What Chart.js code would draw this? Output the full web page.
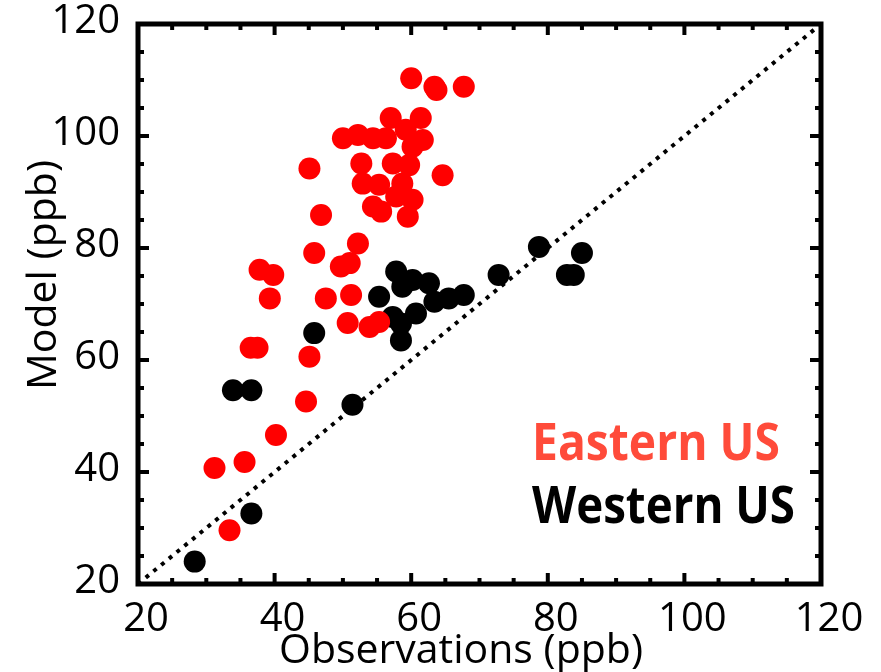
<!DOCTYPE html>
<html>
<head>
<meta charset="utf-8">
<script src="https://cdn.jsdelivr.net/npm/chart.js@4"></script>
<style>
  body { margin: 0; background: #fff; }
  #chart { display: block; }
</style>
</head>
<body>
<canvas id="chart" width="881" height="672"></canvas>
<script>
// data

const eastObs = [60.0, 63.4, 63.7, 67.7, 57.0, 61.4, 59.2, 50.0, 52.2, 54.4, 56.3, 61.7, 60.2,
  45.1, 52.7, 57.3, 59.7, 64.6, 52.9, 55.3, 58.7, 57.8, 60.2, 54.4, 55.6, 59.5, 46.8,
  52.2, 45.8, 49.7, 51.0, 37.8, 39.8, 39.3, 47.5, 51.2, 50.7, 53.9, 55.3,
  36.5, 37.5, 45.1, 44.6, 40.2, 31.2, 35.6, 33.4];
const eastModel = [110.3, 108.8, 108.2, 108.8, 103.2, 103.2, 101.1, 99.6, 100.2, 99.6, 99.6, 99.3, 98.1,
  94.2, 95.1, 95.1, 94.8, 93.0, 91.5, 91.3, 91.5, 89.2, 88.6, 87.4, 86.5, 85.6, 85.9,
  80.8, 79.1, 76.7, 77.3, 76.1, 75.2, 71.0, 71.0, 71.6, 66.6, 65.9, 66.8,
  62.2, 62.2, 60.6, 52.6, 46.6, 40.7, 41.8, 29.6];

const westObs = [28.3, 36.6, 33.9, 36.6, 51.4, 45.8, 58.5, 58.5, 57.3, 60.7, 55.3,
  57.8, 58.7, 60.2, 62.6, 63.4, 65.5, 67.7, 72.8, 78.7, 82.8, 83.8, 85.0];
const westModel = [24.0, 32.6, 54.6, 54.6, 52.0, 64.8, 63.5, 66.5, 67.7, 68.3, 71.3,
  75.8, 73.1, 74.3, 73.7, 70.4, 71.0, 71.6, 75.2, 80.2, 75.2, 75.2, 79.1];

const oneToOne = [20, 120];
const axisTicks = [20, 40, 60, 80, 100, 120];
const labels = ['Eastern US', 'Western US'];
const xTitle = 'Observations (ppb)';
const yTitle = 'Model (ppb)';

// helpers

function toPoints(xs, ys) {
  return xs.map((x, i) => ({ x: x, y: ys[i] }));
}

const xTickFont = { family: 'Open Sans', size: 40, lineHeight: 1 };
const yTickFont = { family: 'Open Sans', size: 40, lineHeight: 0.5 };

// frame with inward ticks on all four sides, axis titles and the two text labels
const frame_plugin = {
  id: 'frame',
  afterDraw(chart) {
    const ctx = chart.ctx;
    const a = chart.chartArea;
    const xs = chart.scales.x;
    const ys = chart.scales.y;
    ctx.save();
    ctx.strokeStyle = '#000';
    ctx.lineWidth = 5;
    ctx.strokeRect(a.left, a.top, a.right - a.left, a.bottom - a.top);

    ctx.lineWidth = 4;
    for (let v = 20; v <= 120; v += 5) {
      const len = axisTicks.includes(v) ? 11 : 6;
      const px = xs.getPixelForValue(v);
      const py = ys.getPixelForValue(v);
      ctx.beginPath();
      ctx.moveTo(px, a.bottom); ctx.lineTo(px, a.bottom - len);
      ctx.moveTo(px, a.top); ctx.lineTo(px, a.top + len);
      ctx.moveTo(a.left, py); ctx.lineTo(a.left + len, py);
      ctx.moveTo(a.right, py); ctx.lineTo(a.right - len, py);
      ctx.stroke();
    }

    // axis titles
    ctx.fillStyle = '#000';
    ctx.font = '41px "Open Sans"';
    ctx.textAlign = 'center';
    ctx.textBaseline = 'alphabetic';
    ctx.fillText(xTitle, 461, 663, 365);
    ctx.save();
    ctx.translate(56, 275);
    ctx.rotate(-Math.PI / 2);
    ctx.fillText(yTitle, 0, 0, 232);
    ctx.restore();

    // series labels
    ctx.font = 'bold 52px "Open Sans"';
    ctx.textAlign = 'left';
    ctx.fillStyle = '#ff4b3a';
    ctx.fillText(labels[0], 532, 460, 248);
    ctx.fillStyle = '#000';
    ctx.fillText(labels[1], 532, 523, 263);
    ctx.restore();
  }
};

const ctx = document.getElementById('chart').getContext('2d');
const chart = new Chart(ctx, {
  type: 'scatter',
  data: {
    datasets: [
      {
        label: labels[0],
        data: toPoints(eastObs, eastModel),
        backgroundColor: '#ff0000',
        borderWidth: 0,
        pointRadius: 11,
        order: 0
      },
      {
        label: labels[1],
        data: toPoints(westObs, westModel),
        backgroundColor: '#000',
        borderWidth: 0,
        pointRadius: 11,
        order: 1
      },
      {
        type: 'line',
        label: '1:1',
        data: toPoints(oneToOne, oneToOne),
        borderColor: '#000',
        borderWidth: 4,
        borderDash: [4, 6],
        pointRadius: 0,
        fill: false,
        order: 2
      }
    ]
  },
  options: {
    responsive: false,
    animation: false,
    layout: { padding: { top: 24, right: 60, left: 0, bottom: 0 } },
    plugins: {
      legend: { display: false },
      tooltip: { enabled: false }
    },
    scales: {
      x: {
        type: 'linear',
        min: 20,
        max: 120,
        afterFit: (s) => { s.height = 88; },
        afterBuildTicks: (s) => { s.ticks = axisTicks.map(v => ({ value: v })); },
        grid: { display: false },
        border: { display: false },
        ticks: { font: xTickFont, color: '#000', padding: 8, labelOffset: 8, maxRotation: 0 }
      },
      y: {
        type: 'linear',
        min: 20,
        max: 120,
        afterFit: (s) => { s.width = 138; },
        afterBuildTicks: (s) => { s.ticks = axisTicks.map(v => ({ value: v })); },
        grid: { display: false },
        border: { display: false },
        ticks: { font: yTickFont, color: '#000', padding: 10, labelOffset: -2 }
      }
    }
  },
  plugins: [frame_plugin]
});
</script>
</body>
</html>
